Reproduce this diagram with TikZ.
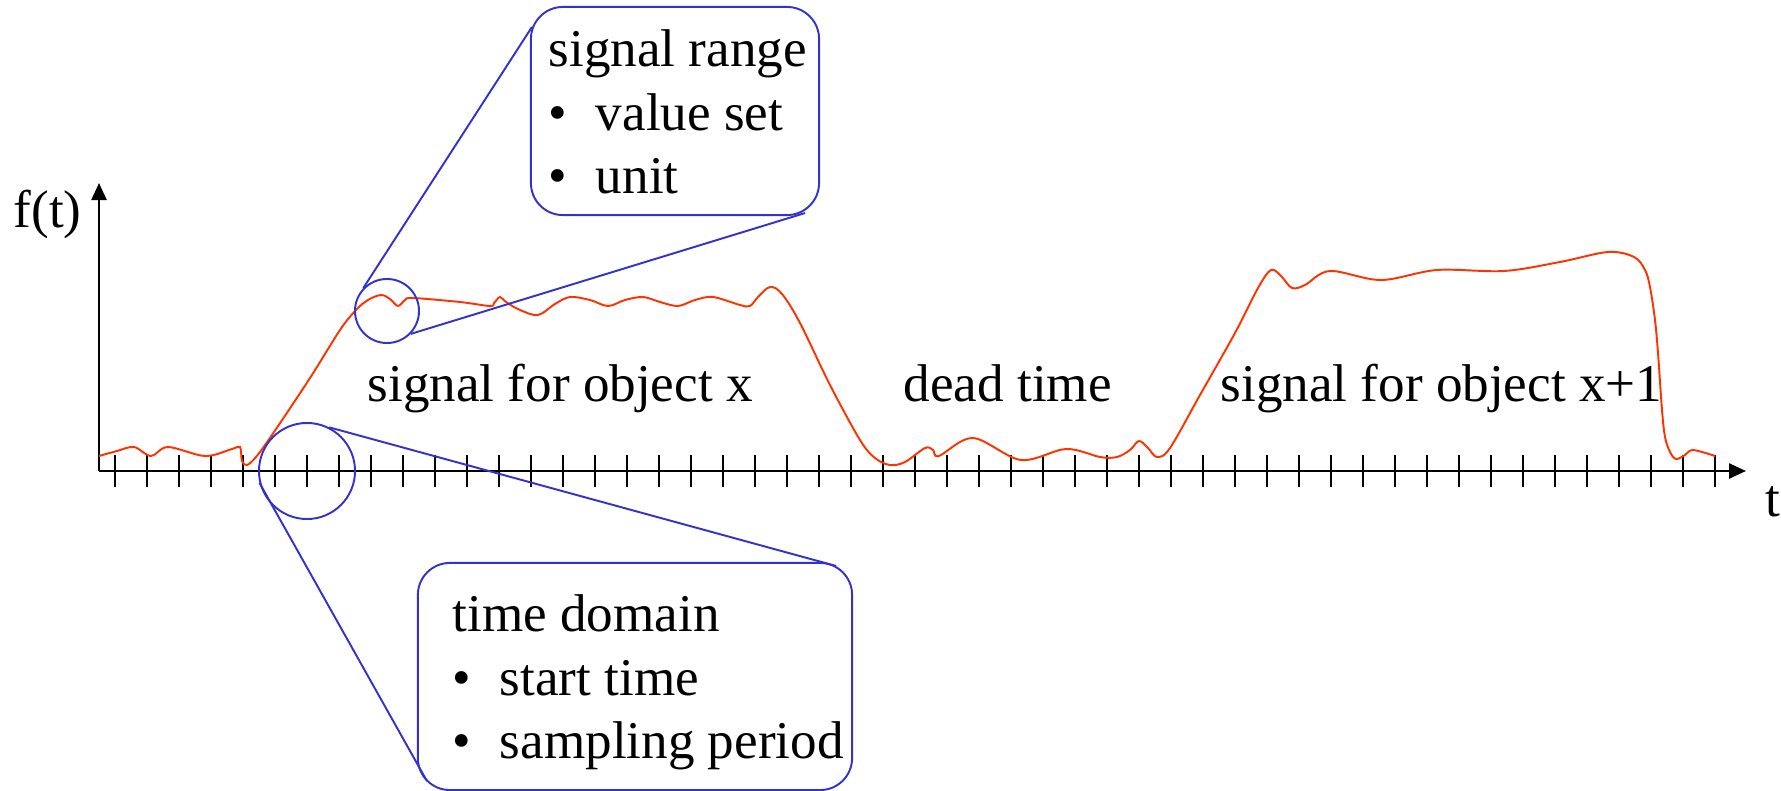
\documentclass[tikz,border=0pt]{standalone}
\usepackage{fontspec}
\setmainfont{Liberation Serif}
\usepackage{tikz}
\usetikzlibrary{arrows.meta}
\usetikzlibrary{calc}
\definecolor{zoomblue}{RGB}{51,51,204}
\definecolor{sigred}{RGB}{255,51,0}

\begin{document}
\begin{tikzpicture}[x=0.01cm, y=-0.01cm,
  every node/.style={font=\fontsize{15.1pt}{18.1pt}\selectfont, inner sep=0pt},
  axis/.style={line width=0.7pt, black},
  signal/.style={line width=0.55pt, sigred},
  zoomring/.style={circle, draw=zoomblue, line width=0.55pt},
  infobox/.style={draw=zoomblue, line width=0.55pt, rounded corners=0.32cm},
  zoomline/.style={zoomblue, line width=0.55pt}]
  \useasboundingbox (0,0) rectangle (1781,791);
  \coordinate (o) at (99,471);
  \coordinate (yend) at (99,183);
  \coordinate (xend) at (1746,471);
  \draw [axis, -{Triangle[length=0.17cm, width=0.15cm]}] (o) -- (yend);
  \draw [axis, -{Triangle[length=0.17cm, width=0.15cm]}] (o) -- (xend);
  \foreach \k in {0,...,50}
    \draw [axis, line width=0.6pt] ({115+32*\k},455) -- ({115+32*\k},487);
  \node [anchor=base west] (ft) at (13,228) {f(t)};
  \node [anchor=base west] (tl) at (1765,516) {t};

  \draw [signal] plot [smooth, tension=0.55] coordinates {
    (99,456) (117,451) (134,447) (151,456) (168,447) (205,456) (232,449) (240,447)
    (242,461) (247,465) (256,457) (272,435) (310,378) (340,330) (356,310) (368,300)
    (381,295) (390,299) (398,306) (405,300) (413,298) (460,302) (490,306) (494,303)
    (500,297) (506,302) (520,310) (538,315) (555,304) (570,297) (590,300) (608,306)
    (625,300) (643,297) (660,302) (678,306) (695,300) (713,297) (740,305) (750,306)
    (758,297) (770,287) (782,294) (800,323) (830,385) (860,440) (875,458) (890,465)
    (905,462) (925,448) (933,450) (939,456) (973,438) (1021,460) (1066,449) (1100,457)
    (1117,457) (1130,450) (1139,441) (1148,448) (1157,457) (1170,448) (1200,395)
    (1235,333) (1258,288) (1271,270) (1281,276) (1292,288) (1305,285) (1330,271)
    (1381,280) (1437,270) (1504,271) (1560,262) (1608,252) (1634,257) (1645,270)
    (1650,287) (1655,320) (1658,353) (1662,410) (1665,437) (1670,452) (1676,459)
    (1685,455) (1693,450) (1715,456)};

  \node [anchor=base west] (objx) at (367,402) {signal for object x};
  \node [anchor=base west] (dead) at (903,402) {dead time};
  \node [anchor=base west] (objy) at (1220,402) {signal for object x+1};

  \node [zoomring, minimum size=0.64cm] (rangezoom) at (387,311) {};
  \node [zoomring, minimum size=0.96cm] (timezoom) at (307,471) {};

  \node [infobox, minimum width=2.88cm, minimum height=2.08cm] (rangebox) at (675,111) {};
  \node [anchor=north west, align=left] (rangetext) at (548,29)
    {signal range\\\makebox[0.89em][l]{\textbullet}value set\\\makebox[0.89em][l]{\textbullet}unit};
  \node [infobox, minimum width=4.34cm, minimum height=2.27cm] (timebox) at (635,676.5) {};
  \node [anchor=north west, align=left] (timetext) at (452,594)
    {time domain\\\makebox[0.89em][l]{\textbullet}start time\\\makebox[0.89em][l]{\textbullet}sampling period};

  \draw [zoomline] (rangezoom.136) -- ($(rangebox.north west)+(2,21)$);
  \draw [zoomline] (rangezoom.-44) -- ($(rangebox.south east)+(-15,-3)$);
  \draw [zoomline] (timezoom.63) -- ($(timebox.north east)+(-17,4)$);
  \draw [zoomline] (timezoom.194) -- ($(timebox.south west)+(10,-10)$);
\end{tikzpicture}
\end{document}
